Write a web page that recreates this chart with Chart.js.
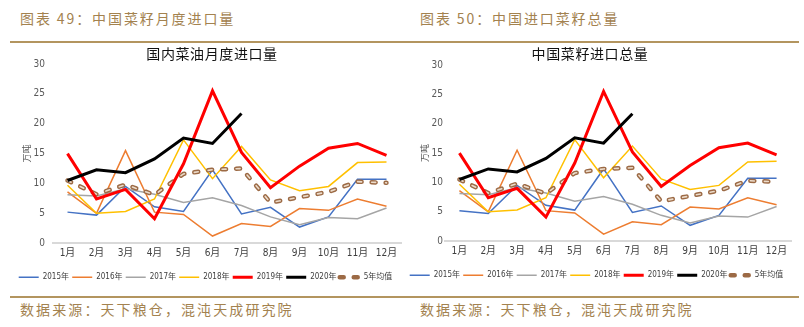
<!DOCTYPE html>
<html lang="zh">
<head>
  <meta charset="UTF-8" />
  <title>中国菜籽进口</title>
  <script src="https://cdn.jsdelivr.net/npm/chart.js"></script>
  <style>
    body { margin: 0; width: 804px; height: 327px; background: #fff; position: relative; overflow: hidden; }
    .head, .foot {
      position: absolute; font-family: 'Noto Sans CJK SC', sans-serif; font-size: 14px;
      color: #a3824f; white-space: nowrap;
    }
    .head { letter-spacing: 1.9px; }
    .foot { letter-spacing: 2.1px; }
    .title {
      position: absolute; top: 43px; font-family: 'Noto Sans CJK SC', sans-serif; font-size: 14px;
      color: #111; white-space: nowrap; transform: translateX(-50%); letter-spacing: 0.6px;
    }
    .rule { position: absolute; height: 2px; background: #b3955f; }
    .box { position: absolute; top: 42px; height: 254px; }
  </style>
</head>
<body>
  <div class="head" style="left:20px; top:8px;">图表 49：中国菜籽月度进口量</div>
  <div class="head" style="left:420px; top:8px;">图表 50：中国进口菜籽总量</div>
  <div class="rule" style="left:10px; width:392px; top:41px;"></div>
  <div class="rule" style="left:402px; width:397px; top:41px;"></div>

  <div class="box" style="left:10px; width:392px;"><canvas id="leftChart"></canvas></div>
  <div class="box" style="left:402px; width:397px;"><canvas id="rightChart"></canvas></div>
  <div class="title" style="left:212px;">国内菜油月度进口量</div>
  <div class="title" style="left:590px;">中国菜籽进口总量</div>

  <div class="rule" style="left:10px; width:789px; top:296px;"></div>
  <div class="foot" style="left:20px; top:299px;">数据来源：天下粮仓，混沌天成研究院</div>
  <div class="foot" style="left:420px; top:299px;">数据来源：天下粮仓，混沌天成研究院</div>

  <script>
    // monthly imports, 万吨
    const months = ['1月', '2月', '3月', '4月', '5月', '6月', '7月', '8月', '9月', '10月', '11月', '12月'];
    const y2015 = [5.2, 4.7, 9.5, 6.1, 5.3, 12.3, 4.9, 6.0, 2.7, 4.4, 10.7, 10.7];
    const y2016 = [8.6, 5.0, 15.5, 5.2, 4.8, 1.2, 3.3, 2.8, 5.8, 5.5, 7.4, 6.2];
    const y2017 = [8.1, 7.9, 9.1, 8.2, 6.8, 7.6, 6.3, 4.4, 3.1, 4.3, 4.1, 5.9];
    const y2018 = [9.7, 5.0, 5.3, 7.4, 17.3, 10.8, 16.2, 10.6, 8.8, 9.5, 13.5, 13.6];
    const y2019 = [15.0, 7.4, 9.0, 4.1, 13.3, 25.5, 15.2, 9.3, 12.9, 15.9, 16.7, 14.7];
    const y2020 = [10.5, 12.3, 11.8, 14.1, 17.6, 16.7, 21.7];
    const avg5 = [10.5, 8.2, 9.8, 8.1, 11.6, 12.3, 12.5, 6.8, 7.7, 8.6, 10.3, 10.1];

    const NARROW = "'Liberation Sans Narrow', 'DejaVu Sans Condensed', 'Noto Sans CJK SC', sans-serif";
    const CJK = "'Noto Sans CJK SC', sans-serif";
    const AVG_DASH = [4, 10];
    const LEGEND_SIZE = 8;
    const LEGEND_LINE = 20;
    const LEGEND_PITCH = 53.5;

    // spacing between legend entries so every "20xx年" entry sits LEGEND_PITCH apart
    const measure = document.createElement('canvas').getContext('2d');
    measure.font = LEGEND_SIZE + 'px ' + NARROW;
    const legendPad = Math.max(2, LEGEND_PITCH - LEGEND_LINE - LEGEND_SIZE / 2 - measure.measureText('2015年').width);

    function series(label, data, color, width, order) {
      return { label, data, borderColor: color, backgroundColor: color, borderWidth: width,
               pointRadius: 0, tension: 0, fill: false, order };
    }

    // top/bottom: plot edges, legendY: centre of the legend row (canvas px)
    function makeChart(id, g) {
      const H = 254;
      const legendTop = g.legendY - legendPad - LEGEND_SIZE / 2;
      const legendH = 2 * legendPad + LEGEND_SIZE + 10;

      const avgOuter = series('5年均值', avg5, '#9c6a45', 4.5, 3);
      avgOuter.borderDash = AVG_DASH;
      avgOuter.borderCapStyle = 'round';
      const avgInner = series('', avg5, '#ecdccb', 1.6, 2);
      avgInner.borderDash = AVG_DASH;
      avgInner.borderCapStyle = 'round';

      return new Chart(document.getElementById(id), {
        type: 'line',
        data: {
          labels: months,
          datasets: [
            series('2015年', y2015, '#4472c4', 1.5, 7),
            series('2016年', y2016, '#ed7d31', 1.5, 6),
            series('2017年', y2017, '#a5a5a5', 1.5, 5),
            series('2018年', y2018, '#ffc000', 1.5, 4),
            series('2019年', y2019, '#ff0000', 3, 1),
            series('2020年', y2020, '#000000', 3, 0),
            avgOuter,
            avgInner
          ]
        },
        options: {
          responsive: true,
          maintainAspectRatio: false,
          animation: false,
          layout: { padding: { left: 0, right: g.right, top: g.top, bottom: Math.max(0, H - legendTop - legendH) } },
          plugins: {
            legend: {
              position: 'bottom',
              labels: {
                usePointStyle: true, pointStyleWidth: LEGEND_LINE, boxHeight: LEGEND_SIZE, padding: legendPad,
                color: '#404040', font: { family: NARROW, size: LEGEND_SIZE },
                generateLabels: (chart) => chart.data.datasets
                  .map((ds, i) => ({
                    text: ds.label, datasetIndex: i, hidden: false,
                    strokeStyle: ds.borderColor, fillStyle: ds.borderColor,
                    lineWidth: ds.borderWidth, lineDash: ds.borderDash || [],
                    lineCap: ds.borderCapStyle || 'butt', pointStyle: 'line', fontColor: '#404040'
                  }))
                  .filter(item => item.text !== '')
              }
            },
            tooltip: { enabled: false }
          },
          scales: {
            x: {
              offset: true,
              grid: { display: false, drawTicks: false },
              border: { color: '#d9d9d9', width: 2 },
              ticks: { color: '#404040', font: { family: NARROW, size: 10 }, padding: 4 },
              afterFit: (scale) => { scale.height = legendTop - g.bottom; }
            },
            y: {
              min: 0, max: 30,
              grid: { display: false, drawTicks: false },
              border: { display: false },
              ticks: { stepSize: 5, color: '#595959', font: { family: NARROW, size: 10 }, padding: g.tickPad },
              title: { display: true, text: '万吨', color: '#595959', font: { family: CJK, size: 9 },
                       padding: { top: g.titlePad, bottom: 0 } },
              afterFit: (scale) => { scale.width = 43; }
            }
          }
        }
      });
    }

    makeChart('leftChart', { top: 22, bottom: 198, legendY: 232, right: 1, tickPad: 8, titlePad: 11 });
    makeChart('rightChart', { top: 23, bottom: 196, legendY: 230, right: 8, tickPad: 2, titlePad: 17 });
  </script>
</body>
</html>
